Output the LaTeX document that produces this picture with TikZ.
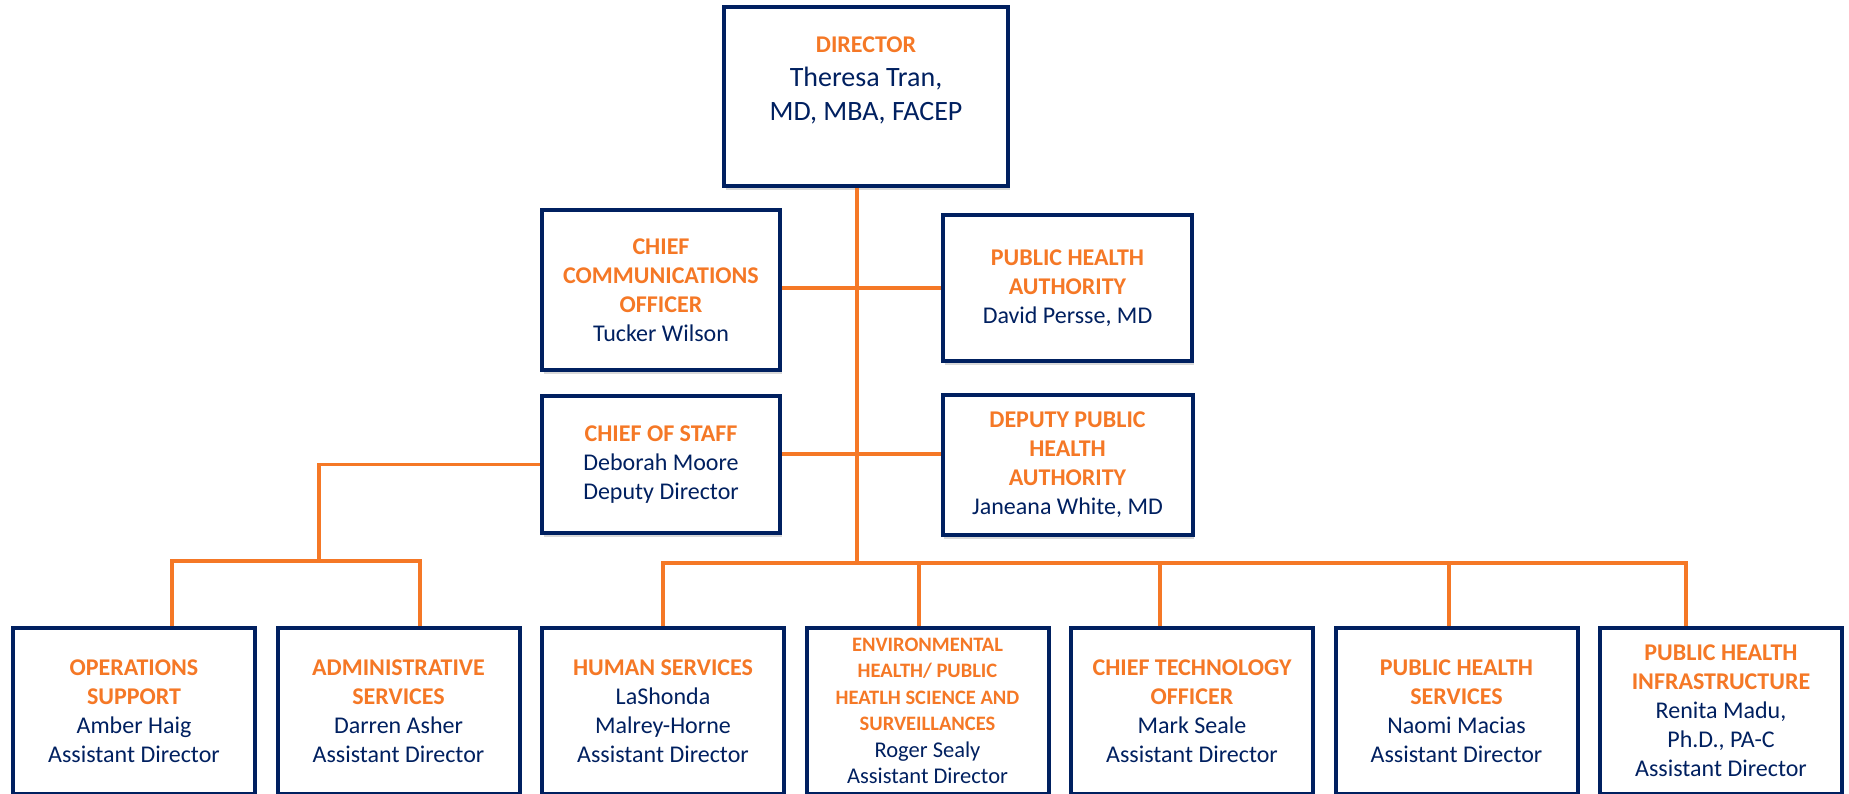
\documentclass[tikz,border=0pt]{standalone}
\usepackage{fontspec}
\setmainfont{Carlito}
\usetikzlibrary{positioning,shadows}
\definecolor{navy}{RGB}{0,32,96}
\definecolor{accent}{RGB}{245,120,38}
\newcommand{\rolehd}[1]{{\color{accent}\bfseries #1}}
\newcommand{\rolesm}[1]{{\fontsize{20.5}{25}\selectfont\color{accent}\bfseries #1}}

\begin{document}
\begin{tikzpicture}[
    x=1pt, y=-1pt,
    node distance=18.5pt,
    box/.style={rectangle, draw=navy, line width=4pt, fill=white, align=center, text=navy,
        font=\fontsize{24}{29}\selectfont,
        drop shadow={shadow xshift=1.5pt, shadow yshift=-3.5pt, fill=black, opacity=0.15}},
    head/.style={box, minimum width=284pt, minimum height=179pt},
    staff/.style={box, minimum width=238pt, minimum height=160pt},
    unit/.style={box, minimum width=242pt, minimum height=166pt},
    link/.style={draw=accent, line width=3.5pt}
]
\useasboundingbox (0,0) rectangle (1849,793);
\clip (0,0) rectangle (1849,793);

% Director
\node[head] (director) at (866,96.5) {};
\node[text=navy, align=center, font=\fontsize{28}{34}\selectfont] (director_text) at ([yshift=16pt]director.center)
    {\rolehd{\fontsize{24}{30}\selectfont DIRECTOR}\\Theresa Tran,\\MD, MBA, FACEP};

% Office of the director
\node[staff] (cco) at (661,290) {\rolehd{CHIEF}\\\rolehd{COMMUNICATIONS}\\\rolehd{OFFICER}\\Tucker Wilson};
\node[staff, minimum width=249pt, minimum height=146pt] (pha) at (1067.5,288) {\rolehd{PUBLIC HEALTH}\\\rolehd{AUTHORITY}\\David Persse, MD};
\node[staff, minimum height=137pt, below=22pt of cco] (cos) {\rolehd{CHIEF OF STAFF}\\Deborah Moore\\Deputy Director};
\node[staff, minimum width=250pt, minimum height=140pt, below=30pt of pha] (dpha) {\rolehd{DEPUTY PUBLIC}\\\rolehd{HEALTH}\\\rolehd{AUTHORITY}\\Janeana White, MD};

% Divisions
\node[unit] (ops) at (134,711) {\rolehd{OPERATIONS}\\\rolehd{SUPPORT}\\Amber Haig\\Assistant Director};
\node[unit, right=of ops] (admin) {\rolehd{ADMINISTRATIVE}\\\rolehd{SERVICES}\\Darren Asher\\Assistant Director};
\node[unit, right=of admin] (hs) {\rolehd{HUMAN SERVICES}\\LaShonda\\Malrey-Horne\\Assistant Director};
\node[unit, right=of hs, font=\fontsize{22.5}{26.5}\selectfont] (env) {\rolesm{ENVIRONMENTAL}\\\rolesm{HEALTH/ PUBLIC}\\\rolesm{HEATLH SCIENCE AND}\\\rolesm{SURVEILLANCES}\\Roger Sealy\\Assistant Director};
\node[unit, right=of env] (cto) {\rolehd{CHIEF TECHNOLOGY}\\\rolehd{OFFICER}\\Mark Seale\\Assistant Director};
\node[unit, right=of cto] (phs) {\rolehd{PUBLIC HEALTH}\\\rolehd{SERVICES}\\Naomi Macias\\Assistant Director};
\node[unit, right=of phs] (phi) {\rolehd{PUBLIC HEALTH}\\\rolehd{INFRASTRUCTURE}\\Renita Madu,\\Ph.D., PA-C\\Assistant Director};

% Bus points
\coordinate (bus) at (857,563);
\coordinate (subbus) at (319,561);

% Connectors - trunk
\draw[link] (director.south -| bus) -- (bus);
\draw[link] (cco.east |- pha.west) -- (pha.west);
\draw[link] ([yshift=10.5pt]cos.east) -- ([yshift=10.5pt]cos.east -| dpha.west);

% Connectors - chief of staff branch
\draw[link] (cos.west) -| (subbus);
\draw[link] ([xshift=38pt]ops.north) |- (subbus) -| ([xshift=21.5pt]admin.north);

% Connectors - divisions
\draw[link] (hs.north) |- ([xshift=-35pt]phi.north |- bus) -- ([xshift=-35pt]phi.north);
\draw[link] ([xshift=-8.5pt]env.north) -- ([xshift=-8.5pt]env.north |- bus);
\draw[link] ([xshift=-32pt]cto.north) -- ([xshift=-32pt]cto.north |- bus);
\draw[link] ([xshift=-7.5pt]phs.north) -- ([xshift=-7.5pt]phs.north |- bus);

\end{tikzpicture}
\end{document}
